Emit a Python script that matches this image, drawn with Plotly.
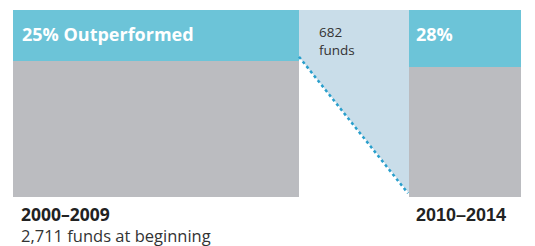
import plotly.graph_objects as go

# ---- data ----
periods = ["2000–2009", "2010–2014"]
outperformed_label = ["25% Outperformed", "28%"]
outperformed_drawn = [27.3, 30.3]   # share of bar height drawn in teal
period_notes = ["2,711 funds at beginning", ""]
survivors_label = ["682", "funds"]
flow_start = 75      # left end of the flow band (percent of left bar)
flow_end = 2         # right end of the flow band (percent of right bar)

# ---- styling / layout ----
W, H = 535, 246
bar_centers = [156, 465]
bar_widths = [286, 112]
TEAL = "#6cc4d8"
GRAY = "#bbbcc0"
LIGHT = "#c9dde9"
DOT = "#2a9fcc"
FONT = "Open Sans"

fig = go.Figure()

gray_h = [100 - s for s in outperformed_drawn]
fig.add_trace(go.Bar(x=bar_centers, y=gray_h, base=[0, 0], width=bar_widths,
                     marker=dict(color=GRAY, line=dict(width=0)), hoverinfo="skip"))
fig.add_trace(go.Bar(x=bar_centers, y=outperformed_drawn, base=gray_h, width=bar_widths,
                     marker=dict(color=TEAL, line=dict(width=0)), hoverinfo="skip"))

x_left_edge = bar_centers[0] + bar_widths[0] / 2
x_right_edge = bar_centers[1] - bar_widths[1] / 2
fig.add_trace(go.Scatter(
    x=[x_left_edge, x_right_edge, x_right_edge, x_left_edge, x_left_edge],
    y=[100, 100, flow_end, flow_start, 100],
    fill="toself", fillcolor=LIGHT, mode="lines", line=dict(width=0),
    hoverinfo="skip"))
fig.add_trace(go.Scatter(
    x=[x_left_edge, x_right_edge - 1], y=[flow_start, flow_end],
    mode="lines", line=dict(color=DOT, width=2.5, dash="dot"), hoverinfo="skip"))

def px(x):
    return x / W

def py(y):
    return 1 - y / H

ann = []
ann.append(dict(x=px(20), y=py(34), text=outperformed_label[0],
                font=dict(family=FONT, size=18, color="white", weight="bold")))
ann.append(dict(x=px(414), y=py(34), text=outperformed_label[1],
                font=dict(family=FONT, size=18, color="white", weight="bold")))
ann.append(dict(x=px(317), y=py(41), text="<br>".join(survivors_label), align="left",
                font=dict(family=FONT, size=13.5, color="#333333")))
ann.append(dict(x=px(19), y=py(214), text=periods[0],
                font=dict(family=FONT, size=17.5, color="#222222", weight="bold")))
ann.append(dict(x=px(19), y=py(235), text=period_notes[0],
                font=dict(family=FONT, size=16.5, color="#333333")))
ann.append(dict(x=px(414), y=py(215), text=periods[1],
                font=dict(family="Liberation Sans", size=18, color="#222222", weight="bold")))
for a in ann:
    a.update(xref="paper", yref="paper", xanchor="left", yanchor="middle", showarrow=False)

pxu = 187 / 100  # pixels per percent
fig.update_layout(
    width=W, height=H, margin=dict(l=0, r=0, t=0, b=0),
    paper_bgcolor="white", plot_bgcolor="white",
    barmode="overlay", bargap=0, showlegend=False,
    xaxis=dict(range=[0, W], visible=False, fixedrange=True),
    yaxis=dict(range=[-(H - 197) / pxu, 100 + 10 / pxu], visible=False, fixedrange=True),
    annotations=ann,
)
fig.write_html("out.html", config={"displayModeBar": False})

with open("out.html", encoding="utf-8") as f:
    html = f.read()
html = html.replace("<body>", '<body style="margin:0;padding:0;overflow:hidden">', 1)
with open("out.html", "w", encoding="utf-8") as f:
    f.write(html)
